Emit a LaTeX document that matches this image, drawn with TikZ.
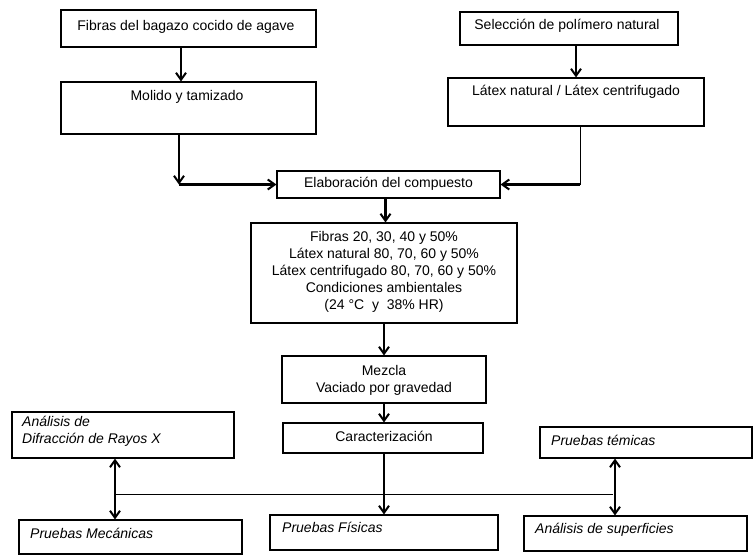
\documentclass[tikz,border=0pt]{standalone}
\usepackage{fontspec}
\setmainfont{Liberation Sans}
\usetikzlibrary{arrows.meta,positioning,calc}
\tikzset{
  box/.style={draw=black, line width=1.1pt, inner sep=0pt, fill=white},
  txt/.style={inner sep=0pt, font=\fontsize{14}{17}\selectfont, align=center},
  itxt/.style={inner sep=0pt, font=\fontsize{14}{17}\selectfont\itshape, align=left, anchor=west},
  tip/.tip={Straight Barb[length=7pt,width=10pt,line width=2pt]},
  arr/.style={line width=2.6pt, -tip},
  darr/.style={line width=2.6pt, tip-tip},
  thinline/.style={line width=1pt}
}
\begin{document}
\begin{tikzpicture}[x=1pt,y=-1pt]
\useasboundingbox (0,0) rectangle (753,555);
% boxes
\node[box, minimum width=255, minimum height=37] (A) at (188.5,28.5) {};
\node[txt] (tA) at (186,27) {Fibras del bagazo cocido de agave};
\node[box, minimum width=255, minimum height=52] (B) at (188.5,108) {};
\node[txt] (tB) at (187,97) {Molido y tamizado};
\node[box, minimum width=218, minimum height=33] (C) at (569,28.5) {};
\node[txt] (tC) at (567,26) {Selección de polímero natural};
\node[box, minimum width=256, minimum height=48] (D) at (576,102) {};
\node[txt] (tD) at (576,92) {Látex natural / Látex centrifugado};
\node[box, minimum width=223, minimum height=27] (E) at (388.5,184.5) {};
\node[txt] (tE) at (388.5,184) {Elaboración del compuesto};
\node[box, minimum width=266, minimum height=100] (F) at (384,273) {};
\node[txt] (tF) at (384,271.5) {Fibras 20, 30, 40 y 50\%\\Látex natural 80, 70, 60 y 50\%\\Látex centrifugado 80, 70, 60 y 50\%\\Condiciones ambientales\\(24 °C \ y \ 38\% HR)};
\node[box, minimum width=204, minimum height=47] (G) at (384,379.5) {};
\node[txt] (tG) at (384,380) {Mezcla\\Vaciado por gravedad};
\node[box, minimum width=200, minimum height=30] (H) at (383,438) {};
\node[txt] (tH) at (384,436) {Caracterización};
\node[box, minimum width=222, minimum height=46] (I) at (123,435) {};
\node[itxt] (tI) at (22,431) {Análisis de\\Difracción de Rayos X};
\node[box, minimum width=223, minimum height=34] (J) at (130.5,537) {};
\node[itxt] (tJ) at (30,533) {Pruebas Mecánicas};
\node[box, minimum width=228, minimum height=35] (K) at (384,532.5) {};
\node[itxt] (tK) at (282,527) {Pruebas Físicas};
\node[box, minimum width=212, minimum height=31] (L) at (646,442.5) {};
\node[itxt] (tL) at (551,440) {Pruebas témicas};
\node[box, minimum width=223, minimum height=35] (M) at (635.5,533.5) {};
\node[itxt] (tM) at (535,530) {Análisis de superficies};
% connectors
\draw[arr] ([xshift=-7.5pt]A.south) -- ([xshift=-7.5pt]B.north);
\coordinate (c1) at ([xshift=-9.5pt]B.south |- E.west);
\draw[arr] ([xshift=-9.5pt]B.south) -- (c1);
\draw[arr] (c1) -- (E.west);
\draw[arr] ([xshift=7pt]C.south) -- ([xshift=7pt]C.south |- D.north);
\coordinate (c2) at ([xshift=4pt]D.south |- E.east);
\draw[thinline] ([xshift=4pt]D.south) -- (c2);
\draw[arr] (c2) -- (E.east);
\draw[arr] ([xshift=-3pt]E.south) -- ([xshift=-3pt]E.south |- F.north);
\draw[arr] (F.south) -- (G.north);
\draw[arr] (G.south) -- (G.south |- H.north);
\draw[arr] (G.south |- H.south) -- (G.south |- K.north);
\coordinate (hl) at (115,494);
\coordinate (hr) at (613,494);
\draw[thinline] (hl) -- (hr);
\draw[darr] (I.south -| hl) -- (J.north -| hl);
\draw[darr] ([xshift=2pt]L.south -| hr) -- ([xshift=2pt]M.north -| hr);
\end{tikzpicture}
\end{document}
